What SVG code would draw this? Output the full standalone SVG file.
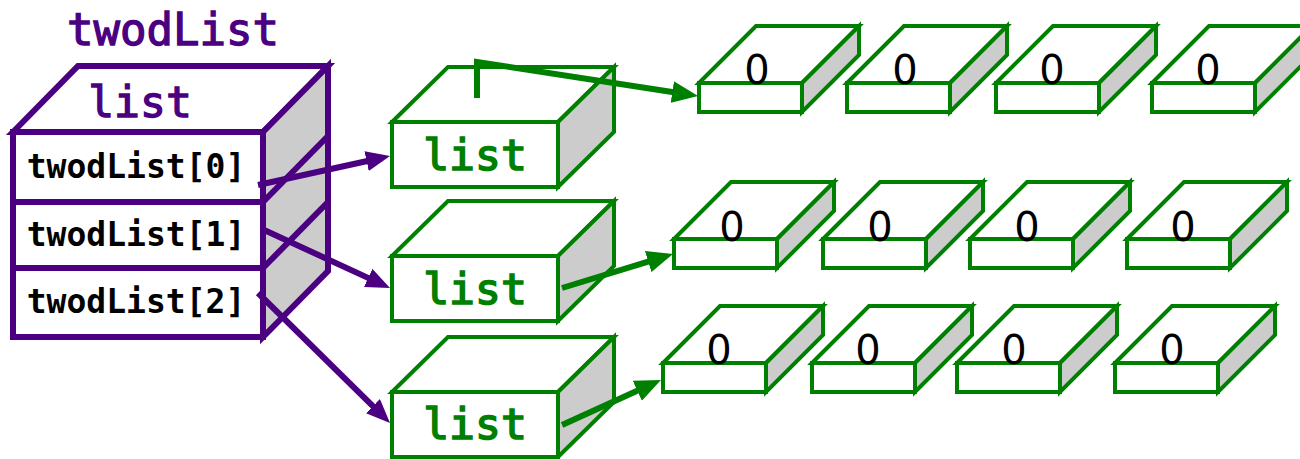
<svg xmlns="http://www.w3.org/2000/svg" xmlns:xlink="http://www.w3.org/1999/xlink" width="1300" height="459" viewBox="0 0 1300 459">
<style>
.pf{fill:#fff;stroke:#4B0082;stroke-width:6;stroke-linejoin:miter}
.ps{fill:#cccccc;stroke:#4B0082;stroke-width:6}
.pl{fill:none;stroke:#4B0082;stroke-width:6}
.gf{fill:#fff;stroke:#008000;stroke-width:4}
.gs{fill:#cccccc;stroke:#008000;stroke-width:4}
.mono{font-family:"DejaVu Sans Mono","Liberation Mono",monospace;font-weight:bold}
.reg{font-weight:normal}
.ptitle{fill:#4B0082;stroke:#4B0082;stroke-width:1.3px;font-size:44px}
.lbl{fill:#000;font-size:33px}
.glist{fill:#008000;stroke:#008000;stroke-width:1.6px;font-size:43px}
.zero{font-family:"DejaVu Sans","Liberation Sans",sans-serif;font-size:40px;fill:#000;text-anchor:middle}
.pa{fill:none;stroke:#4B0082;stroke-width:6}
.ga{fill:none;stroke:#008000;stroke-width:6}
</style>
<defs>
<marker id="mp" markerUnits="userSpaceOnUse" markerWidth="24" markerHeight="20" refX="16" refY="10" orient="auto"><path d="M0,0 L24,10 L0,20 z" fill="#4B0082"/></marker>
<marker id="mg" markerUnits="userSpaceOnUse" markerWidth="26" markerHeight="22" refX="18" refY="11" orient="auto"><path d="M0,0 L26,11 L0,22 z" fill="#008000"/></marker>
<g id="zbox">
<polygon class="gf" points="0,0 57,-57 160,-57 103,0"/>
<polygon class="gs" points="103,0 160,-57 160,-28 103,29"/>
<rect class="gf" x="0" y="0" width="103" height="29"/>
</g>
<g id="lbox">
<polygon class="gf" points="0,0 56,-55 222,-55 166,0"/>
<polygon class="gs" points="166,0 222,-55 222,10 166,65"/>
<rect class="gf" x="0" y="0" width="166" height="65"/>
</g>
</defs>
<rect width="1300" height="459" fill="#fff"/>

<g id="twodList">
<text class="mono reg ptitle" x="173" y="45" text-anchor="middle">twodList</text>
<polygon class="pf" points="13,132 78,66 328,66 263,132"/>
<polygon class="ps" points="263,132 328,66 328,271 263,337"/>
<line class="pl" x1="263" y1="202" x2="328" y2="136"/>
<line class="pl" x1="263" y1="268" x2="328" y2="202"/>
<rect class="pf" x="13" y="132" width="250" height="205"/>
<line class="pl" x1="13" y1="202" x2="263" y2="202"/>
<line class="pl" x1="13" y1="268" x2="263" y2="268"/>
<text class="mono reg ptitle" x="140" y="117" text-anchor="middle" style="font-size:43px">list</text>
<text class="mono lbl" x="136" y="178" text-anchor="middle">twodList[0]</text>
<text class="mono lbl" x="136" y="246" text-anchor="middle">twodList[1]</text>
<text class="mono lbl" x="136" y="313" text-anchor="middle">twodList[2]</text>
</g>

<g id="list0" transform="translate(392,122)"><use xlink:href="#lbox"/><text class="mono reg glist" x="83" y="48" text-anchor="middle">list</text></g>
<g id="list1" transform="translate(392,256)"><use xlink:href="#lbox"/><text class="mono reg glist" x="83" y="48" text-anchor="middle">list</text></g>
<g id="list2" transform="translate(392,392)"><use xlink:href="#lbox"/><text class="mono reg glist" x="83" y="47" text-anchor="middle">list</text></g>

<g id="r0c0" transform="translate(699,83)"><use xlink:href="#zbox"/><text class="zero" x="58" y="1">0</text></g>
<g id="r0c1" transform="translate(847,83)"><use xlink:href="#zbox"/><text class="zero" x="58" y="1">0</text></g>
<g id="r0c2" transform="translate(996,83)"><use xlink:href="#zbox"/><text class="zero" x="56" y="1">0</text></g>
<g id="r0c3" transform="translate(1152,83)"><use xlink:href="#zbox"/><text class="zero" x="56" y="1">0</text></g>

<g id="r1c0" transform="translate(674,239)"><use xlink:href="#zbox"/><text class="zero" x="58" y="2">0</text></g>
<g id="r1c1" transform="translate(823,239)"><use xlink:href="#zbox"/><text class="zero" x="57" y="2">0</text></g>
<g id="r1c2" transform="translate(970,239)"><use xlink:href="#zbox"/><text class="zero" x="57" y="2">0</text></g>
<g id="r1c3" transform="translate(1127,239)"><use xlink:href="#zbox"/><text class="zero" x="56" y="2">0</text></g>

<g id="r2c0" transform="translate(663,363)"><use xlink:href="#zbox"/><text class="zero" x="56" y="1">0</text></g>
<g id="r2c1" transform="translate(812,363)"><use xlink:href="#zbox"/><text class="zero" x="56" y="1">0</text></g>
<g id="r2c2" transform="translate(957,363)"><use xlink:href="#zbox"/><text class="zero" x="57" y="1">0</text></g>
<g id="r2c3" transform="translate(1115,363)"><use xlink:href="#zbox"/><text class="zero" x="57" y="1">0</text></g>

<g id="connectors">
<path class="pa" d="M258,185 L382.2,157.7" marker-end="url(#mp)"/>
<path class="pa" d="M262,229 L382.7,284.6" marker-end="url(#mp)"/>
<path class="pa" d="M258,293 L384.3,417.4" marker-end="url(#mp)"/>
<path class="ga" d="M477,98 L477,62 L690.1,94.8" marker-end="url(#mg)"/>
<path class="ga" d="M562,288 L665.4,256.3" marker-end="url(#mg)"/>
<path class="ga" d="M562,425 L653.7,383.3" marker-end="url(#mg)"/>
</g>
</svg>
